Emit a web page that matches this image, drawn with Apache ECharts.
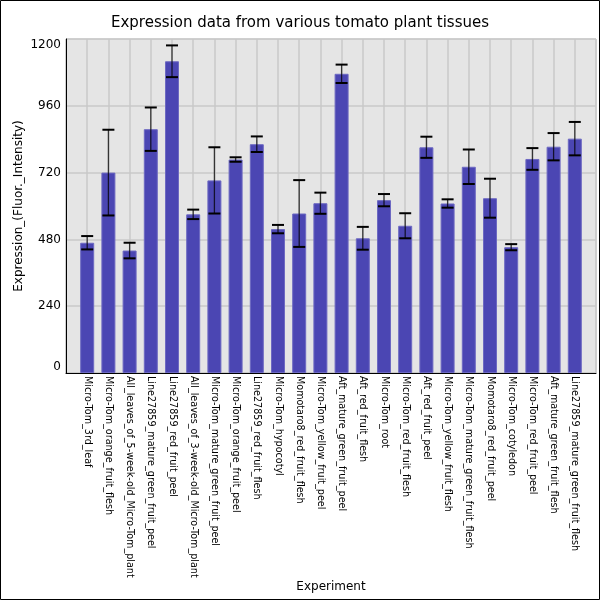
<!DOCTYPE html>
<html>
<head>
<meta charset="utf-8">
<script src="https://cdn.jsdelivr.net/npm/echarts@6/dist/echarts.min.js"></script>
<style>
  html, body { margin: 0; padding: 0; background: #fff; }
  #chart { width: 600px; height: 600px; }
</style>
</head>
<body>
<div id="chart"></div>
<script>
// tissues (x categories)
const tissues = [
  'Micro-Tom_3rd_leaf',
  'Micro-Tom_orange_fruit_flesh',
  'All_leaves_of_5-week-old_Micro-Tom_plant',
  'Line27859_mature_green_fruit_peel',
  'Line27859_red_fruit_peel',
  'All_leaves_of_3-week-old_Micro-Tom_plant',
  'Micro-Tom_mature_green_fruit_peel',
  'Micro-Tom_orange_fruit_peel',
  'Line27859_red_fruit_flesh',
  'Micro-Tom_hypocotyl',
  'Momotaro8_red_fruit_flesh',
  'Micro-Tom_yellow_fruit_peel',
  'Aft_mature_green_fruit_peel',
  'Aft_red_fruit_flesh',
  'Micro-Tom_root',
  'Micro-Tom_red_fruit_flesh',
  'Aft_red_fruit_peel',
  'Micro-Tom_yellow_fruit_flesh',
  'Micro-Tom_mature_green_fruit_flesh',
  'Momotaro8_red_fruit_peel',
  'Micro-Tom_cotyledon',
  'Micro-Tom_red_fruit_peel',
  'Aft_mature_green_fruit_flesh',
  'Line27859_mature_green_fruit_flesh'
];

// mean expression
const expression = [
  468, 720, 440, 876, 1120, 570, 692, 767, 822, 517, 573, 610,
  1075, 484, 621, 529, 811, 609, 741, 628, 452, 769, 813, 842
];

// error (+/-)
const errors = [
  24, 154, 28, 78, 57, 17, 119, 8, 28, 15, 120, 38,
  33, 41, 22, 45, 38, 15, 62, 70, 11, 39, 49, 60
];

const yTicks = [0, 240, 480, 720, 960, 1200];

// pad one empty slot on each side, like the original plot
const cats = [''].concat(tissues, ['']);
const barData = [null].concat(expression, [null]);
const errData = tissues.map((t, i) => [i + 1, expression[i] - errors[i], expression[i] + errors[i]]);

const chart = echarts.init(document.getElementById('chart'));

chart.setOption({
  animation: false,
  backgroundColor: '#ffffff',
  textStyle: { fontFamily: 'DejaVu Sans' },
  title: {
    text: 'Expression data from various tomato plant tissues',
    left: 'center',
    top: 11,
    textStyle: { fontSize: 15, fontWeight: 'normal', color: '#000', fontFamily: 'DejaVu Sans' }
  },
  graphic: [{
    type: 'rect',
    shape: { x: 0.5, y: 0.5, width: 599, height: 599 },
    style: { fill: null, stroke: '#000', lineWidth: 1 },
    silent: true
  }],
  grid: {
    left: 66, top: 39, right: 4, bottom: 227,
    outerBoundsMode: 'none',
    containLabel: false,
    show: true,
    backgroundColor: '#e5e5e5',
    borderColor: '#c8c8c8',
    borderWidth: 1
  },
  xAxis: {
    type: 'category',
    data: cats,
    boundaryGap: false,
    name: 'Experiment',
    nameLocation: 'middle',
    nameGap: 208,
    nameMoveOverlap: false,
    nameTextStyle: { fontSize: 12, color: '#000' },
    axisLine: { lineStyle: { color: '#000', width: 1 } },
    axisTick: { show: false },
    axisLabel: { rotate: -90, fontSize: 9.6, color: '#000', margin: 3, interval: 0 },
    splitLine: { show: true, lineStyle: { color: '#c8c8c8', width: 1.5 } }
  },
  yAxis: {
    type: 'value',
    min: yTicks[0],
    max: yTicks[yTicks.length - 1],
    interval: 240,
    name: 'Expression_(Fluor._Intensity)',
    nameLocation: 'middle',
    nameGap: 41,
    nameMoveOverlap: false,
    nameTextStyle: { fontSize: 12, color: '#000' },
    axisLine: { show: true, lineStyle: { color: '#000', width: 1 } },
    axisTick: { show: false },
    axisLabel: {
      fontSize: 12, color: '#000', margin: 5,
      formatter: v => String(v),
      verticalAlignMaxLabel: 'top',
      verticalAlignMinLabel: 'bottom'
    },
    splitLine: { show: true, lineStyle: { color: '#c8c8c8', width: 1.5 } }
  },
  series: [
    {
      type: 'bar',
      data: barData,
      barWidth: 14,
      itemStyle: { color: '#4b46b3', borderColor: '#6d69c2', borderWidth: 1 }
    },
    {
      type: 'custom',
      data: errData,
      z: 10,
      renderItem: function (params, api) {
        const x = api.value(0);
        const lo = api.coord([x, api.value(1)]);
        const hi = api.coord([x, api.value(2)]);
        const hw = 6;
        return {
          type: 'group',
          children: [
            { type: 'line', shape: { x1: lo[0], y1: lo[1], x2: hi[0], y2: hi[1] },
              style: { stroke: 'rgba(0,0,0,0.75)', lineWidth: 1.3 } },
            { type: 'line', shape: { x1: lo[0] - hw, y1: lo[1], x2: lo[0] + hw, y2: lo[1] },
              style: { stroke: '#000', lineWidth: 2 } },
            { type: 'line', shape: { x1: hi[0] - hw, y1: hi[1], x2: hi[0] + hw, y2: hi[1] },
              style: { stroke: '#000', lineWidth: 2 } }
          ]
        };
      }
    }
  ]
});
</script>
</body>
</html>
